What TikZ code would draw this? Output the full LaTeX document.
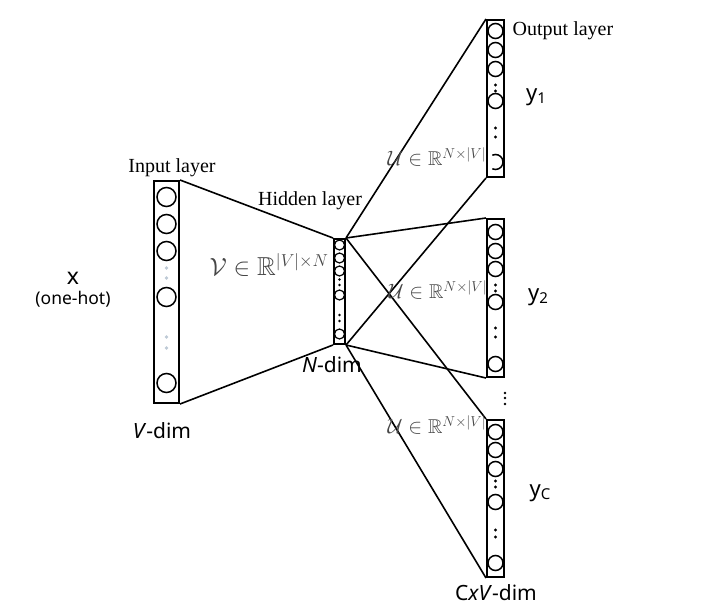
\documentclass[tikz,border=0pt]{standalone}
\usepackage{amssymb}
\usepackage{fontspec}
\setmainfont{Liberation Serif}
\newfontfamily\sansf{Noto Sans}
\definecolor{dotgray}{RGB}{190,202,214}
\definecolor{mathgray}{RGB}{70,70,70}
\begin{document}
\begin{tikzpicture}[x=1pt,y=-1pt,
  layerbox/.style={draw,line width=2pt,inner sep=0pt},
  neuron/.style={circle,draw,line width=1.5pt,inner sep=0pt},
  conn/.style={line width=1.6pt},
  bdot/.style={circle,fill=black,inner sep=0pt,minimum size=3.2pt},
  gdot/.style={circle,fill=dotgray,inner sep=0pt,minimum size=3.8pt},
  serlabel/.style={inner sep=0pt,font=\fontsize{20}{20}\selectfont},
  mathlabel/.style={inner sep=0pt,text=mathgray,font=\fontsize{20}{20}\selectfont},
  sanslabel/.style={inner sep=0pt,font=\sansf\fontsize{21}{21}\selectfont}
]
\useasboundingbox (0,0) rectangle (720,613);
% boxes
\node[layerbox,minimum width=25pt,minimum height=222pt] (in) at (166.5,292) {};
\node[layerbox,minimum width=11pt,minimum height=105pt] (hid) at (339.5,291.5) {};
\node[layerbox,minimum width=17pt,minimum height=157pt] (o1) at (495.5,98.5) {};
\node[layerbox,minimum width=17pt,minimum height=158pt] (o2) at (495.5,298) {};
\node[layerbox,minimum width=17pt,minimum height=157pt] (oc) at (495.5,498.5) {};
% neurons
\foreach \y/\n in {197/1,224/2,251/3,297/4,383/5}
  \node[neuron,minimum size=19pt] (in\n) at (166.5,\y) {};
\foreach \y/\n in {268/1,278/2,337/3,348/4}
  \node[gdot] (ind\n) at (166.5,\y) {};
\foreach \y/\n in {245/1,258/2,271/3,295/4,334/5}
  \node[neuron,minimum size=10pt,line width=1.2pt] (h\n) at (339.5,\y) {};
\foreach \y/\n in {279.5/1,285/2,315/3,321/4}
  \node[bdot,minimum size=2.6pt] (hd\n) at (339.5,\y) {};
\foreach \y/\n in {31/1,50/2,69/3,101/4}
  \node[neuron,minimum size=15pt] (a\n) at (495.5,\y) {};
\draw[line width=1.5pt] (495.5,162) ++(115:7.5pt) arc[start angle=115,end angle=-115,radius=7.5pt];
\foreach \y/\n in {85/1,91/2,128/3,137/4}
  \node[bdot] (ad\n) at (495.5,\y) {};
\foreach \y/\n in {232/1,251/2,269/3,302/4,364/5}
  \node[neuron,minimum size=15pt] (b\n) at (495.5,\y) {};
\foreach \y/\n in {285/1,291/2,328/3,337/4}
  \node[bdot] (bd\n) at (495.5,\y) {};
\foreach \y/\n in {432/1,450/2,469/3,502/4,563/5}
  \node[neuron,minimum size=15pt] (c\n) at (495.5,\y) {};
\foreach \y/\n in {481/1,487/2,530/3,537/4}
  \node[bdot] (cd\n) at (495.5,\y) {};
\foreach \y/\n in {393/1,398/2,404/3}
  \node[bdot,minimum size=2.6pt] (vd\n) at (505,\y) {};
% connectors
\draw[conn] (in.north east) -- (hid.north west);
\draw[conn] (in.south east) -- (hid.south west);
\draw[conn] (hid.north east) -- (o1.north west);
\draw[conn] (hid.north east) -- (o2.north west);
\draw[conn] (hid.north east) -- (oc.north west);
\draw[conn] (hid.south east) -- (o1.south west);
\draw[conn] (hid.south east) -- (o2.south west);
\draw[conn] (hid.south east) -- (oc.south west);
% labels
\node[serlabel] (linput) at (172,168) {Input layer};
\node[serlabel] (lhidden) at (310,201) {Hidden layer};
\node[serlabel] (loutput) at (563,31) {Output layer};
\node[mathlabel,font=\fontsize{26}{26}\selectfont] (lv) at (269,265) {$\mathcal{V}\in\mathbb{R}^{|V|\times N}$};
\node[mathlabel] (lu1) at (437,157) {$\mathcal{U}\in\mathbb{R}^{N\times|V|}$};
\node[mathlabel] (lu2) at (438,290) {$\mathcal{U}\in\mathbb{R}^{N\times|V|}$};
\node[mathlabel] (lu3) at (437,425) {$\mathcal{U}\in\mathbb{R}^{N\times|V|}$};
\node[sanslabel,font=\sansf\fontsize{23}{23}\selectfont] (lx) at (73,278) {x};
\node[sanslabel,font=\sansf\fontsize{17.5}{17.5}\selectfont] (lonehot) at (73,299) {(one-hot)};
\node[sanslabel,anchor=base] (lvdim) at (162,438) {\textit{V}-dim};
\node[sanslabel,anchor=base] (lndim) at (332,372) {\textit{N}-dim};
\node[sanslabel,anchor=base] (lcdim) at (496,600) {C\textit{xV}-dim};
\node[sanslabel,font=\sansf\fontsize{22}{22}\selectfont] (ly1) at (536,97) {y\raisebox{-0.3ex}{\fontsize{15}{15}\selectfont 1}};
\node[sanslabel,font=\sansf\fontsize{22}{22}\selectfont] (ly2) at (538,297) {y\raisebox{-0.3ex}{\fontsize{15}{15}\selectfont 2}};
\node[sanslabel,font=\sansf\fontsize{22}{22}\selectfont] (lyc) at (540,493) {y\raisebox{-0.3ex}{\fontsize{15}{15}\selectfont C}};
\end{tikzpicture}
\end{document}
